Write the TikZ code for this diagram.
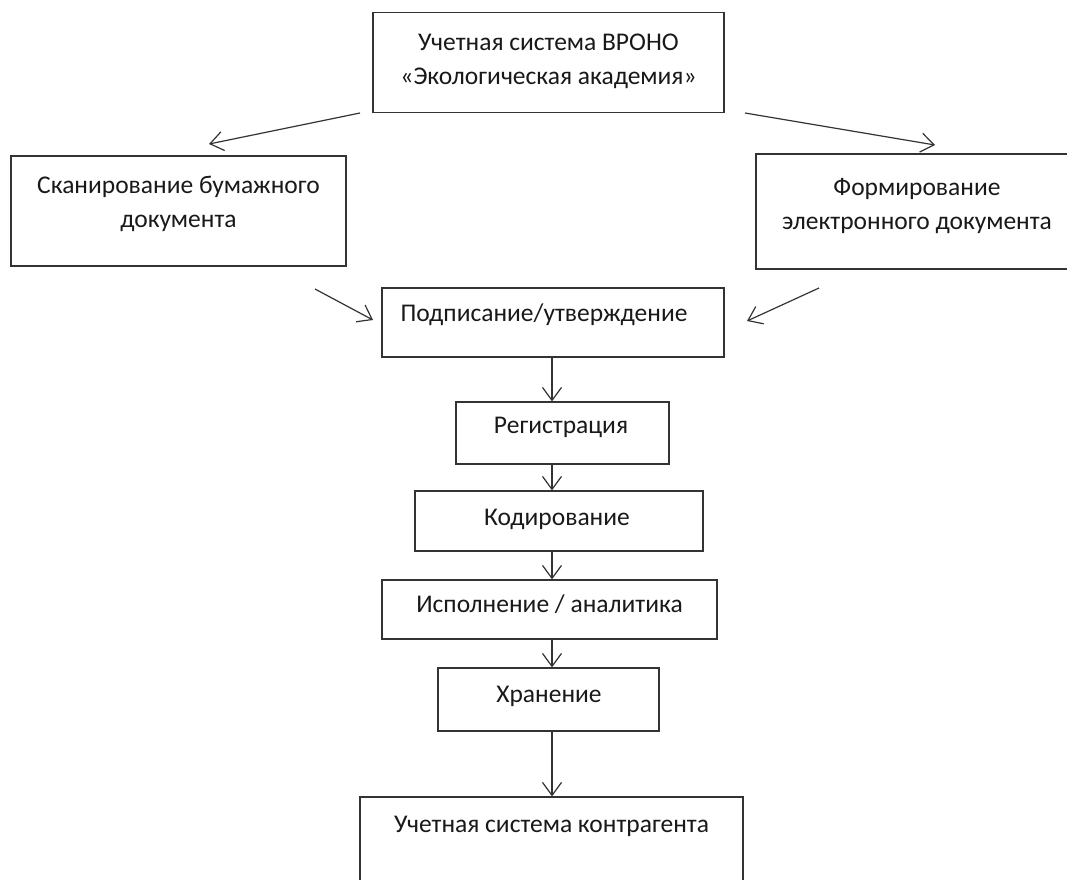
\documentclass[tikz,border=0pt]{standalone}
\usepackage{fontspec}
\setmainfont{Carlito}
\usetikzlibrary{arrows.meta,calc}
\begin{document}
\begin{tikzpicture}[x=1pt,y=-1pt,
  box/.style={draw=black!80,line width=1.2pt,rectangle,inner sep=0pt},
  lbl/.style={anchor=base,inner sep=0pt,text=black!90,font=\fontsize{25.5}{34}\selectfont},
  conn/.style={draw=black!80,line width=1.2pt,-{Straight Barb[length=13pt,width=19pt,line width=1.2pt]}}]
\useasboundingbox[fill=white] (0,0) rectangle (1067,879);
% boxes
\node[box,minimum width=351pt,minimum height=100pt] (top) at (548.5,62.5) {};
\node[box,minimum width=335pt,minimum height=110pt] (scan) at (178.5,211) {};
\node[box,minimum width=322pt,minimum height=115pt] (form) at (917,211.5) {};
\node[box,minimum width=342pt,minimum height=69pt] (sign) at (553,322.5) {};
\node[box,minimum width=213pt,minimum height=62pt] (reg) at (562.5,433) {};
\node[box,minimum width=288pt,minimum height=60pt] (code) at (559,521) {};
\node[box,minimum width=335pt,minimum height=59pt] (exec) at (549.5,609.5) {};
\node[box,minimum width=221pt,minimum height=63pt] (store) at (548.5,699.5) {};
\node[box,minimum width=383pt,minimum height=110pt] (dest) at (551.5,852) {};
% labels
\node[lbl] (t1) at (548.5,50) {Учетная система ВРОНО};
\node[lbl] (t2) at (548.5,84) {«Экологическая академия»};
\node[lbl] (s1) at (178.5,193) {Сканирование бумажного};
\node[lbl] (s2) at (178.5,227) {документа};
\node[lbl] (f1) at (917,195) {Формирование};
\node[lbl] (f2) at (917,229) {электронного документа};
\node[lbl] (g1) at (544,321) {Подписание/утверждение};
\node[lbl] (r1) at (561,433) {Регистрация};
\node[lbl] (c1) at (557,525) {Кодирование};
\node[lbl] (e1) at (549.5,612) {Исполнение / аналитика};
\node[lbl] (h1) at (549,702) {Хранение};
\node[lbl] (d1) at (551.5,832) {Учетная система контрагента};
% connectors
\coordinate (spine) at (552,0);
\coordinate (a1s) at (360,113);
\coordinate (a1e) at (209,144);
\coordinate (a2s) at (745,113);
\coordinate (a2e) at (935,145);
\coordinate (a3s) at (315,289);
\coordinate (a3e) at (373,320);
\coordinate (a4s) at (819,288);
\coordinate (a4e) at (747,321);
\draw[conn] (a1s) -- (a1e);
\draw[conn] (a2s) -- (a2e);
\draw[conn] (a3s) -- (a3e);
\draw[conn] (a4s) -- (a4e);
\draw[conn] (sign.south -| spine) -- (reg.north -| spine);
\draw[conn] (reg.south -| spine) -- (code.north -| spine);
\draw[conn] (code.south -| spine) -- (exec.north -| spine);
\draw[conn] (exec.south -| spine) -- (store.north -| spine);
\draw[conn] (store.south -| spine) -- (dest.north -| spine);
\end{tikzpicture}
\end{document}
